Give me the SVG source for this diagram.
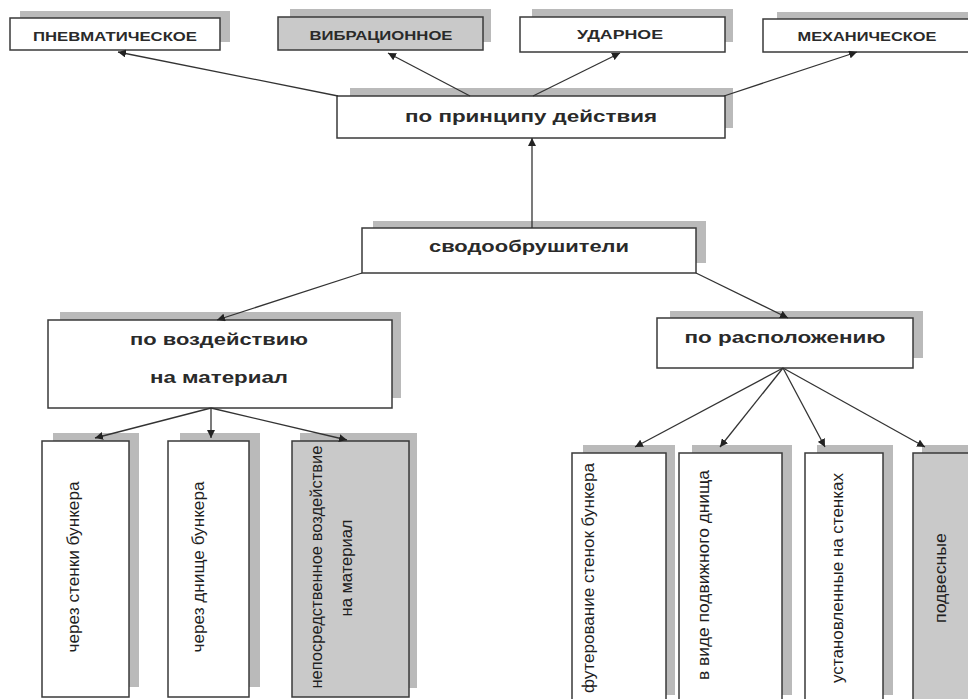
<svg xmlns="http://www.w3.org/2000/svg" width="968" height="699" viewBox="0 0 968 699">
<style>
.sh{fill:#bababa}
.bx{fill:#fff;stroke:#3a3a3a;stroke-width:1.5}
.gb{fill:#c9c9c9;stroke:#3a3a3a;stroke-width:1.5}
.tt{font-family:"Liberation Sans",Arial,sans-serif;font-weight:bold;font-size:13px;fill:#2a2a2a;text-anchor:middle}
.mt{font-family:"Liberation Sans",Arial,sans-serif;font-weight:bold;font-size:17px;fill:#2a2a2a;text-anchor:middle}
.vt{font-family:"Liberation Sans",Arial,sans-serif;font-size:16px;fill:#1e1e1e;text-anchor:middle}
.cn line{stroke:#333;stroke-width:1.3;marker-end:url(#ah)}
</style>
<defs>
<marker id="ah" viewBox="0 0 10 10" refX="10" refY="5" markerWidth="8" markerHeight="8" markerUnits="userSpaceOnUse" orient="auto">
<path d="M0,0 L10,5 L0,10 z" fill="#222"/>
</marker>
</defs>
<rect width="968" height="699" fill="#fff"/>

<g id="n-pnevm">
<rect class="sh" x="20" y="11" width="210" height="31"/>
<rect class="bx" x="10" y="18" width="210" height="32"/>
<text class="tt" x="115" y="41" textLength="164" lengthAdjust="spacingAndGlyphs">ПНЕВМАТИЧЕСКОЕ</text>
</g>
<g id="n-vibr">
<rect class="sh" x="290" y="9" width="201" height="33"/>
<rect class="gb" x="278" y="17" width="205" height="33"/>
<text class="tt" x="381" y="40" textLength="143" lengthAdjust="spacingAndGlyphs">ВИБРАЦИОННОЕ</text>
</g>
<g id="n-udar">
<rect class="sh" x="532" y="9" width="201" height="33"/>
<rect class="bx" x="520" y="17" width="205" height="35"/>
<text class="tt" x="620" y="39" textLength="86" lengthAdjust="spacingAndGlyphs">УДАРНОЕ</text>
</g>
<g id="n-mekh">
<rect class="sh" x="777" y="12" width="200" height="30"/>
<rect class="bx" x="763" y="19" width="210" height="33"/>
<text class="tt" x="867" y="41" textLength="139" lengthAdjust="spacingAndGlyphs">МЕХАНИЧЕСКОЕ</text>
</g>

<g id="n-princip">
<rect class="sh" x="350" y="88" width="383" height="40"/>
<rect class="bx" x="337" y="96" width="388" height="42"/>
<text class="mt" x="531" y="122" textLength="252" lengthAdjust="spacingAndGlyphs">по принципу действия</text>
</g>
<g id="n-svod">
<rect class="sh" x="373" y="221" width="333" height="42"/>
<rect class="bx" x="362" y="228" width="334" height="45"/>
<text class="mt" x="529" y="252" textLength="200" lengthAdjust="spacingAndGlyphs">сводообрушители</text>
</g>
<g id="n-vozd">
<rect class="sh" x="60" y="312" width="341" height="86"/>
<rect class="bx" x="48" y="320" width="344" height="88"/>
<text class="mt" x="219" y="345" textLength="178" lengthAdjust="spacingAndGlyphs">по воздействию</text>
<text class="mt" x="219" y="383" textLength="138" lengthAdjust="spacingAndGlyphs">на материал</text>
</g>
<g id="n-rasp">
<rect class="sh" x="670" y="311" width="253" height="47"/>
<rect class="bx" x="657" y="318" width="256" height="50"/>
<text class="mt" x="785" y="343" textLength="201" lengthAdjust="spacingAndGlyphs">по расположению</text>
</g>

<g id="n-stenki">
<rect class="sh" x="53" y="433" width="86" height="254"/>
<rect class="bx" x="42" y="441" width="87" height="256"/>
<text class="vt" x="79" y="567" transform="rotate(-90 79 567)" textLength="171" lengthAdjust="spacingAndGlyphs">через стенки бункера</text>
</g>
<g id="n-dnishe">
<rect class="sh" x="180" y="433" width="80" height="254"/>
<rect class="bx" x="168" y="441" width="81" height="256"/>
<text class="vt" x="204" y="567" transform="rotate(-90 204 567)" textLength="171" lengthAdjust="spacingAndGlyphs">через днище бункера</text>
</g>
<g id="n-neposr">
<rect class="sh" x="300" y="433" width="117" height="255"/>
<rect class="gb" x="292" y="441" width="117" height="256"/>
<text class="vt" x="322" y="567" transform="rotate(-90 322 567)" textLength="243" lengthAdjust="spacingAndGlyphs">непосредственное воздействие</text>
<text class="vt" x="352" y="568" transform="rotate(-90 352 568)" textLength="97" lengthAdjust="spacingAndGlyphs">на материал</text>
</g>

<g id="n-futer">
<rect class="sh" x="583" y="445" width="92" height="250"/>
<rect class="bx" x="572" y="453" width="94" height="260"/>
<text class="vt" x="594" y="578" transform="rotate(-90 594 578)" textLength="230" lengthAdjust="spacingAndGlyphs">футерование стенок бункера</text>
</g>
<g id="n-podv">
<rect class="sh" x="692" y="445" width="100" height="250"/>
<rect class="bx" x="679" y="453" width="103" height="260"/>
<text class="vt" x="709" y="575" transform="rotate(-90 709 575)" textLength="210" lengthAdjust="spacingAndGlyphs">в виде подвижного днища</text>
</g>
<g id="n-ustan">
<rect class="sh" x="817" y="445" width="76" height="250"/>
<rect class="bx" x="805" y="453" width="78" height="260"/>
<text class="vt" x="843" y="578" transform="rotate(-90 843 578)" textLength="210" lengthAdjust="spacingAndGlyphs">установленные на стенках</text>
</g>
<g id="n-podves">
<rect class="sh" x="922" y="445" width="60" height="250"/>
<rect class="gb" x="913" y="453" width="70" height="260"/>
<text class="vt" x="946" y="578" transform="rotate(-90 946 578)" textLength="90" lengthAdjust="spacingAndGlyphs">подвесные</text>
</g>

<g id="connectors" class="cn">
<line x1="338" y1="96" x2="118" y2="52"/>
<line x1="470" y1="96" x2="388" y2="53"/>
<line x1="533" y1="96" x2="620" y2="53"/>
<line x1="724" y1="96" x2="857" y2="52"/>
<line x1="532" y1="228" x2="532" y2="138"/>
<line x1="362" y1="273" x2="217" y2="320"/>
<line x1="696" y1="273" x2="788" y2="318"/>
<line x1="211" y1="408" x2="95" y2="438"/>
<line x1="211" y1="408" x2="211" y2="438"/>
<line x1="211" y1="408" x2="347" y2="440"/>
<line x1="783" y1="368" x2="635" y2="447"/>
<line x1="783" y1="368" x2="720" y2="447"/>
<line x1="783" y1="368" x2="825" y2="447"/>
<line x1="783" y1="368" x2="925" y2="447"/>
</g>
</svg>
